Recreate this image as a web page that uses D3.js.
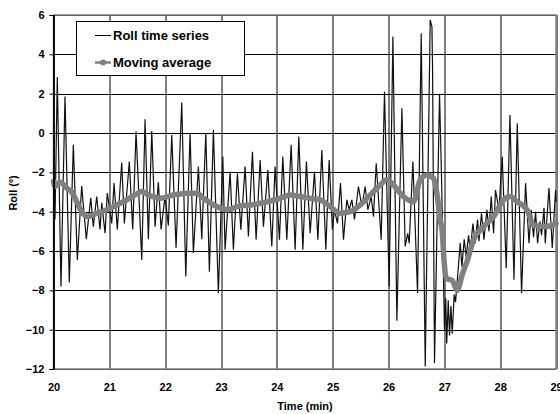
<!DOCTYPE html>
<html>
<head>
<meta charset="utf-8">
<script src="https://cdn.jsdelivr.net/npm/d3@7"></script>
<style>
  body { margin: 0; background: #fff; }
  text { font-family: "Liberation Sans", Arial, sans-serif; font-weight: bold; }
</style>
</head>
<body>
<div id="chart"></div>
<script>
// raw roll signal, turning points (minutes, degrees)
const rollTime = [
  20.000, 20.027, 20.068, 20.134, 20.206, 20.283, 20.355, 20.427, 20.505, 20.588,
  20.667, 20.713, 20.774, 20.833, 20.864, 20.923, 20.964, 21.043, 21.084, 21.143,
  21.222, 21.269, 21.358, 21.419, 21.478, 21.581, 21.640, 21.699, 21.760, 21.819,
  21.878, 21.927, 21.998, 22.057, 22.118, 22.195, 22.297, 22.369, 22.446, 22.505,
  22.595, 22.656, 22.728, 22.792, 22.864, 22.953, 23.032, 23.073, 23.163, 23.222,
  23.294, 23.355, 23.432, 23.491, 23.563, 23.629, 23.701, 23.760, 23.839, 23.910,
  23.969, 24.047, 24.107, 24.179, 24.256, 24.328, 24.394, 24.466, 24.530, 24.597,
  24.674, 24.735, 24.806, 24.878, 24.937, 24.996, 25.032, 25.086, 25.140, 25.194,
  25.254, 25.296, 25.344, 25.391, 25.462, 25.523, 25.582, 25.631, 25.690, 25.731,
  25.780, 25.869, 25.928, 26.012, 26.079, 26.150, 26.240, 26.299, 26.344, 26.371,
  26.437, 26.520, 26.586, 26.658, 26.747, 26.778, 26.789, 26.824, 26.914, 26.950,
  27.003, 27.025, 27.043, 27.070, 27.093, 27.118, 27.141, 27.177, 27.201, 27.285,
  27.315, 27.356, 27.392, 27.434, 27.464, 27.512, 27.553, 27.595, 27.620, 27.666,
  27.709, 27.763, 27.799, 27.840, 27.882, 27.917, 27.978, 28.037, 28.109, 28.175,
  28.247, 28.306, 28.383, 28.455, 28.516, 28.557, 28.598, 28.634, 28.670, 28.713,
  28.742, 28.785, 28.808, 28.874, 28.933, 28.992, 29.000
];
const rollValue = [
  -2.6, -4.4, 2.85, -7.8, 1.85, -7.6, -0.6, -6.45, -2.7, -5.4,
  -3.3, -4.76, -3.23, -4.9, -3.55, -5.1, -3.05, -4.6, -2.55, -4.9,
  -1.5, -4.6, -1.45, -4.9, 0.07, -6.45, 0.7, -5.4, 0.1, -4.76,
  -2.5, -4.9, -3.2, -4.7, -0.1, -5.85, 1.55, -7.3, 0.0, -6.1,
  -1.7, -5.4, 0.0, -7.05, 0.15, -8.15, -1.2, -5.94, -1.96, -5.94,
  -2.05, -4.92, -1.71, -5.26, -0.95, -5.43, -1.37, -4.76, -1.88, -5.77,
  -1.71, -5.43, -1.2, -5.43, -0.6, -5.94, -0.18, -5.94, -1.45, -5.1,
  -1.96, -5.43, -0.86, -5.94, -1.37, -4.92, -3.9, -4.6, -2.55, -5.43,
  -3.4, -3.9, -3.4, -4.4, -2.72, -3.74, -2.72, -3.9, -3.23, -4.25,
  -1.54, -5.43, 2.1, -7.8, 4.9, -9.55, 1.26, -5.77, -5.1, -5.6,
  -1.45, -8.15, 5.07, -11.87, 5.75, 5.4, 3.3, -11.7, 2.0, -2.3,
  -10.0, -8.4, -10.7, -8.5, -10.3, -8.8, -10.2, -8.2, -8.6, -5.6,
  -6.8, -5.4, -6.3, -5.2, -6.0, -4.6, -5.6, -4.4, -5.5, -4.08,
  -5.43, -3.9, -5.0, -3.23, -5.1, -2.9, -3.9, -1.2, -6.87, 0.92,
  -7.46, 0.5, -8.15, -2.55, -5.6, -3.9, -5.3, -4.0, -5.6, -4.5,
  -5.2, -3.8, -5.6, -2.8, -5.85, -2.9, -3.5
];

// moving average
const avgTime = [
  20.000, 20.027, 20.116, 20.237, 20.326, 20.416, 20.505, 20.624, 20.774, 20.953,
  21.133, 21.312, 21.461, 21.581, 21.699, 21.909, 22.147, 22.387, 22.566, 22.685,
  22.864, 23.104, 23.342, 23.581, 23.821, 24.059, 24.238, 24.418, 24.597, 24.776,
  24.955, 25.134, 25.314, 25.493, 25.672, 25.851, 25.971, 26.089, 26.269, 26.448,
  26.568, 26.688, 26.806, 26.873, 26.926, 26.962, 26.998, 27.034, 27.141, 27.231,
  27.320, 27.410, 27.523, 27.702, 27.882, 28.061, 28.181, 28.301, 28.480, 28.598,
  28.778, 28.957, 29.000
];
const avgValue = [
  -2.45, -2.72, -2.5, -2.8, -3.0, -3.49, -4.0, -4.25, -4.08, -3.9,
  -3.65, -3.4, -3.15, -2.98, -3.15, -3.32, -3.15, -3.06, -3.06, -3.32,
  -3.65, -3.9, -3.7, -3.65, -3.5, -3.32, -3.15, -3.23, -3.32, -3.4,
  -3.74, -4.08, -4.0, -3.65, -3.15, -2.64, -2.38, -2.64, -3.23, -3.49,
  -2.38, -2.13, -2.3, -3.2, -4.4, -5.0, -6.6, -7.4, -7.5, -8.0,
  -7.2, -6.5, -5.43, -4.76, -4.25, -3.4, -3.23, -3.49, -3.9, -4.67,
  -4.76, -4.67, -4.6
];

const xTicks = [20, 21, 22, 23, 24, 25, 26, 27, 28, 29];
const yTicks = [-12, -10, -8, -6, -4, -2, 0, 2, 4, 6];
const seriesNames = ["Roll time series", "Moving average"];

const width = 560, height = 414;
const margin = { top: 15, right: 4, bottom: 45, left: 53.5 };
const innerW = width - margin.left - margin.right;
const innerH = height - margin.top - margin.bottom;

const svg = d3.select("#chart")
  .append("svg")
  .attr("width", width)
  .attr("height", height);

const g = svg.append("g")
  .attr("transform", `translate(${margin.left},${margin.top})`);

const x = d3.scaleLinear().domain([20, 29]).range([0, innerW]);
const y = d3.scaleLinear().domain([-12, 6]).range([innerH, 0]);

// grid
g.append("g")
  .selectAll("line")
  .data(yTicks)
  .join("line")
  .attr("x1", 0).attr("x2", innerW)
  .attr("y1", d => Math.round(y(d)) + 0.5).attr("y2", d => Math.round(y(d)) + 0.5)
  .attr("stroke", "#000").attr("stroke-width", 1);

g.append("g")
  .selectAll("line")
  .data(xTicks)
  .join("line")
  .attr("x1", d => Math.round(x(d)) + 0.5).attr("x2", d => Math.round(x(d)) + 0.5)
  .attr("y1", 0).attr("y2", innerH)
  .attr("stroke", "#000").attr("stroke-width", 1);

// plot border (grey on top/right/bottom)
g.append("rect")
  .attr("x", 0).attr("y", 0)
  .attr("width", innerW).attr("height", innerH)
  .attr("fill", "none")
  .attr("stroke", "#808080")
  .attr("stroke-width", 1.5);

const rawData = rollTime.map((t, i) => ({ t, v: rollValue[i] }));
const avgData = avgTime.map((t, i) => ({ t, v: avgValue[i] }));

const line = d3.line().x(d => x(d.t)).y(d => y(d.v));

// raw series
g.append("path")
  .datum(rawData)
  .attr("d", line)
  .attr("fill", "none")
  .attr("stroke", "#111")
  .attr("stroke-width", 1.2)
  .attr("stroke-linejoin", "miter");

// moving average
g.append("path")
  .datum(avgData)
  .attr("d", d3.line().curve(d3.curveMonotoneX).x(d => x(d.t)).y(d => y(d.v)))
  .attr("fill", "none")
  .attr("stroke", "#808080")
  .attr("stroke-width", 5.5)
  .attr("stroke-linejoin", "round")
  .attr("stroke-linecap", "round");

// axes
const yAxis = g.append("g")
  .call(d3.axisLeft(y).tickValues(yTicks).tickSize(4).tickPadding(5));
yAxis.select(".domain").attr("stroke", "#000");
yAxis.selectAll("text").attr("font-size", 11).attr("fill", "#000");

const xAxis = g.append("g")
  .attr("transform", `translate(0,${innerH})`)
  .call(d3.axisBottom(x).tickValues(xTicks).tickSize(0).tickPadding(14));
xAxis.select(".domain").remove();
xAxis.selectAll("text").attr("font-size", 11).attr("fill", "#000");

// left axis line on top
g.append("line")
  .attr("x1", 0.5).attr("x2", 0.5).attr("y1", 0).attr("y2", innerH)
  .attr("stroke", "#000").attr("stroke-width", 1.5);

// axis titles
svg.append("text")
  .attr("x", 305).attr("y", 410)
  .attr("text-anchor", "middle")
  .attr("font-size", 11)
  .text("Time (min)");

svg.append("text")
  .attr("transform", "translate(17,193) rotate(-90)")
  .attr("text-anchor", "middle")
  .attr("font-size", 11)
  .text("Roll  (º)");

// legend
const legend = svg.append("g").attr("transform", "translate(76,21)");
legend.append("rect")
  .attr("x", 0.5).attr("y", 0.5)
  .attr("width", 168).attr("height", 54)
  .attr("fill", "#fff")
  .attr("stroke", "#000")
  .attr("stroke-width", 1);

legend.append("line")
  .attr("x1", 19).attr("x2", 35).attr("y1", 14.5).attr("y2", 14.5)
  .attr("stroke", "#000").attr("stroke-width", 1);
legend.append("line")
  .attr("x1", 19).attr("x2", 35).attr("y1", 41.5).attr("y2", 41.5)
  .attr("stroke", "#808080").attr("stroke-width", 2.5);
legend.append("circle")
  .attr("cx", 27).attr("cy", 41.5).attr("r", 3)
  .attr("fill", "#808080");

legend.selectAll("text.lbl")
  .data(seriesNames)
  .join("text")
  .attr("class", "lbl")
  .attr("x", 37)
  .attr("y", (d, i) => 19 + i * 27)
  .attr("font-size", 13)
  .attr("fill", "#000")
  .text(d => d);
</script>
</body>
</html>
